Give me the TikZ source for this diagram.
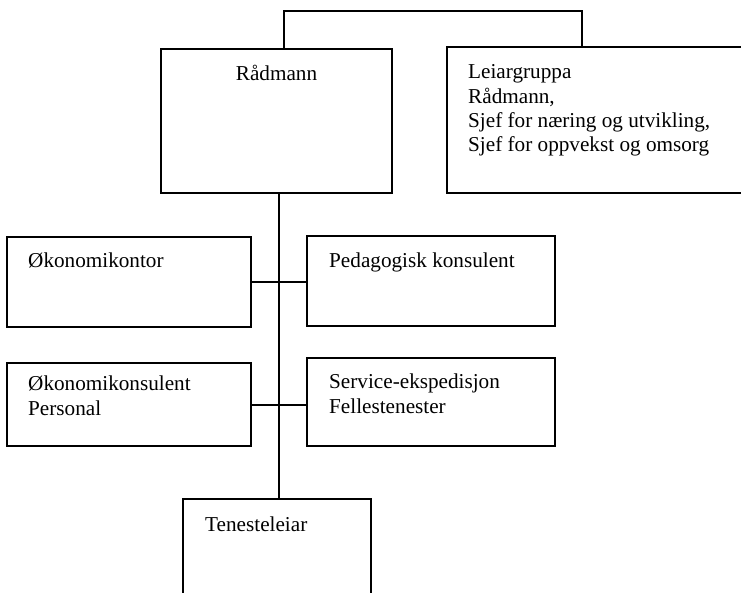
\documentclass[tikz,border=0pt]{standalone}
\usepackage{fontspec}
\setmainfont{Liberation Serif}
\begin{document}
\begin{tikzpicture}[x=1pt,y=-1pt,
  box/.style={draw=black, line width=2pt, anchor=north west, inner sep=0pt, outer sep=0pt, rectangle},
  txt/.style={font=\fontsize{21.2}{24.5}\selectfont, inner sep=0pt, anchor=base west, text=black},
  conn/.style={draw=black, line width=2pt}]
\useasboundingbox (0,0) rectangle (741,593);
\clip (0,0) rectangle (741,593);
\fill[white] (0,0) rectangle (741,593);
% boxes
\node[box, minimum width=231pt, minimum height=144pt] (rad) at (161,49) {};
\node[box, minimum width=320pt, minimum height=146pt] (lei) at (447,47) {};
\node[box, minimum width=244pt, minimum height=90pt] (okt) at (7,237) {};
\node[box, minimum width=248pt, minimum height=90pt] (ped) at (307,236) {};
\node[box, minimum width=244pt, minimum height=83pt] (okk) at (7,363) {};
\node[box, minimum width=248pt, minimum height=88pt] (svc) at (307,358) {};
\node[box, minimum width=188pt, minimum height=120pt] (ten) at (183,499) {};
% texts
\node[txt, anchor=base] (radt) at (276.5,81) {Rådmann};
\node[txt] (lei1) at (468,79) {Leiargruppa};
\node[txt] (lei2) at (468,104) {Rådmann,};
\node[txt] (lei3) at (468,128) {Sjef for næring og utvikling,};
\node[txt] (lei4) at (468,152) {Sjef for oppvekst og omsorg};
\node[txt] (oktt) at (28,268) {Økonomikontor};
\node[txt] (pedt) at (329,268) {Pedagogisk konsulent};
\node[txt] (okk1) at (28,390) {Økonomikonsulent};
\node[txt] (okk2) at (28,415) {Personal};
\node[txt] (svc1) at (329,388) {Service-ekspedisjon};
\node[txt] (svc2) at (329,413) {Fellestenester};
\node[txt] (tent) at (205,531) {Tenesteleiar};
% connectors
\coordinate (topl) at (284,11);
\coordinate (topr) at (582,11);
\coordinate (spine) at (279,0);
\draw[conn] (rad.north -| topl) -- (topl) -- (topr) -- (lei.north -| topr);
\draw[conn] (rad.south -| spine) -- (ten.north -| spine);
\draw[conn] (okt.east) -- (okt.east -| ped.west);
\draw[conn] (okk.east) -- (okk.east -| svc.west);
\end{tikzpicture}
\end{document}
